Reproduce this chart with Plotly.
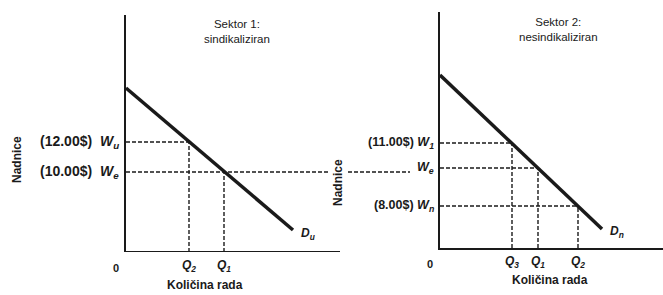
import plotly.graph_objects as go

W, H = 663, 295

# ---- Data (schematic units) ----
# Sector 1 (unionized)
dem1_x = [0.0, 16.7]
dem1_y = [16.4, 2.2]
w1_levels = [11.0, 8.0]            # W_u, W_e
w1_labels = ["(12.00$)  <i>W<sub>u</sub></i>", "(10.00$)  <i>W<sub>e</sub></i>"]
q1_levels = [6.3, 9.8]             # Q2, Q1
q1_labels = ["<i>Q<sub>2</sub></i>", "<i>Q<sub>1</sub></i>"]

# Sector 2 (non-unionized)
dem2_x = [0.0, 16.2]
dem2_y = [17.3, 1.9]
w2_levels = [10.5, 8.0, 4.2]       # W_1, W_e, W_n
w2_labels = ["(11.00$) <i>W<sub>1</sub></i>", "<i>W<sub>e</sub></i>", "(8.00$) <i>W<sub>n</sub></i>"]
q2_levels = [7.2, 9.8, 13.8]       # Q3, Q1, Q2
q2_labels = ["<i>Q<sub>3</sub></i>", "<i>Q<sub>1</sub></i>", "<i>Q<sub>2</sub></i>"]

INK = "#1a1a1a"
FONT = "Liberation Sans"

def px_dom_x(a, b):
    return [a / W, b / W]

def px_dom_y(bottom, top):
    return [(H - bottom) / H, (H - top) / H]

fig = go.Figure()

L_x0, L_x1, L_yb, L_yt = 126, 415, 252, 15
R_x0, R_x1, R_yb, R_yt = 440, 663, 248, 12

fig.update_layout(
    width=W, height=H, margin=dict(l=0, r=0, t=0, b=0),
    paper_bgcolor="white", plot_bgcolor="rgba(0,0,0,0)", showlegend=False,
    font=dict(family=FONT, color=INK, size=11),
    xaxis=dict(domain=px_dom_x(L_x0, L_x1), range=[0, (L_x1 - L_x0) / 10],
               showgrid=False, zeroline=False, showticklabels=False, showline=False, fixedrange=True),
    yaxis=dict(domain=px_dom_y(L_yb, L_yt), range=[0, (L_yb - L_yt) / 10],
               showgrid=False, zeroline=False, showticklabels=False,
               showline=True, linecolor=INK, linewidth=2, fixedrange=True),
    xaxis2=dict(domain=px_dom_x(R_x0, R_x1), range=[0, (R_x1 - R_x0) / 10], anchor="y2",
                showgrid=False, zeroline=False, showticklabels=False,
                showline=True, linecolor=INK, linewidth=2, fixedrange=True),
    yaxis2=dict(domain=px_dom_y(R_yb, R_yt), range=[0, (R_yb - R_yt) / 10], anchor="x2",
                showgrid=False, zeroline=False, showticklabels=False,
                showline=True, linecolor=INK, linewidth=2, fixedrange=True),
)

dash = dict(color=INK, width=1.4, dash="4px,2px")

# left x-axis line (only up to px 340)
fig.add_shape(type="line", xref="x", yref="y", x0=0, x1=(340 - L_x0) / 10, y0=0, y1=0,
              line=dict(color=INK, width=2))

# left dashed guides
fig.add_shape(type="line", xref="x", yref="y", x0=0, x1=q1_levels[0], y0=w1_levels[0], y1=w1_levels[0], line=dash)
fig.add_shape(type="line", xref="x", yref="y", x0=q1_levels[0], x1=q1_levels[0], y0=0, y1=w1_levels[0], line=dash)
# W_e line extends across into sector 2
fig.add_shape(type="line", xref="x", yref="y", x0=0, x1=(410 - L_x0) / 10, y0=w1_levels[1], y1=w1_levels[1], line=dash)
fig.add_shape(type="line", xref="x", yref="y", x0=q1_levels[1], x1=q1_levels[1], y0=0, y1=w1_levels[1], line=dash)

# right dashed guides
for w, q in zip(w2_levels, q2_levels):
    fig.add_shape(type="line", xref="x2", yref="y2", x0=0, x1=q, y0=w, y1=w, line=dash)
    fig.add_shape(type="line", xref="x2", yref="y2", x0=q, x1=q, y0=0, y1=w, line=dash)

# demand curves
fig.add_trace(go.Scatter(x=dem1_x, y=dem1_y, mode="lines", xaxis="x", yaxis="y",
                         line=dict(color=INK, width=3.5), hoverinfo="skip"))
fig.add_trace(go.Scatter(x=dem2_x, y=dem2_y, mode="lines", xaxis="x2", yaxis="y2",
                         line=dict(color=INK, width=3.5), hoverinfo="skip"))

ann = []
def f(size):
    return dict(family=FONT, size=size, color=INK)

for w, lab in zip(w1_levels, w1_labels):
    ann.append(dict(xref="x", yref="y", x=0, y=w, text="<b>" + lab + "</b>", showarrow=False,
                    xanchor="right", yanchor="middle", xshift=-5, font=f(14)))
for w, lab in zip(w2_levels, w2_labels):
    ann.append(dict(xref="x2", yref="y2", x=0, y=w, text="<b>" + lab + "</b>", showarrow=False,
                    xanchor="right", yanchor="middle", xshift=-4, font=f(12.5)))
for q, lab in zip(q1_levels, q1_labels):
    ann.append(dict(xref="x", yref="y", x=q, y=0, text="<b>" + lab + "</b>", showarrow=False,
                    xanchor="center", yanchor="top", yshift=-4, font=f(12)))
for q, lab in zip(q2_levels, q2_labels):
    ann.append(dict(xref="x2", yref="y2", x=q, y=0, text="<b>" + lab + "</b>", showarrow=False,
                    xanchor="center", yanchor="top", yshift=-4, font=f(12)))
ann.append(dict(xref="x", yref="y", x=0, y=0, text="<b>0</b>", showarrow=False,
                xanchor="right", yanchor="top", xshift=-5, yshift=-8, font=f(11)))
ann.append(dict(xref="x2", yref="y2", x=0, y=0, text="<b>0</b>", showarrow=False,
                xanchor="right", yanchor="top", xshift=-5, yshift=-8, font=f(11)))
ann.append(dict(xref="x", yref="y", x=dem1_x[1], y=dem1_y[1], text="<b><i>D<sub>u</sub></i></b>",
                showarrow=False, xanchor="left", yanchor="middle", xshift=6, yshift=-4, font=f(12)))
ann.append(dict(xref="x2", yref="y2", x=dem2_x[1], y=dem2_y[1], text="<b><i>D<sub>n</sub></i></b>",
                showarrow=False, xanchor="left", yanchor="middle", xshift=6, yshift=-3, font=f(12)))
ann.append(dict(xref="paper", yref="paper", x=237 / W, y=1 - 32 / H, text="Sektor 1:<br>sindikaliziran",
                showarrow=False, xanchor="center", yanchor="middle", font=f(11.5), align="center"))
ann.append(dict(xref="paper", yref="paper", x=558 / W, y=1 - 29 / H, text="Sektor 2:<br>nesindikaliziran",
                showarrow=False, xanchor="center", yanchor="middle", font=f(11.5), align="center"))
ann.append(dict(xref="paper", yref="paper", x=205 / W, y=1 - 285 / H, text="<b>Količina rada</b>",
                showarrow=False, xanchor="center", yanchor="middle", font=f(12)))
ann.append(dict(xref="paper", yref="paper", x=550 / W, y=1 - 280 / H, text="<b>Količina rada</b>",
                showarrow=False, xanchor="center", yanchor="middle", font=f(12)))
ann.append(dict(xref="paper", yref="paper", x=17 / W, y=1 - 160 / H, text="<b>Nadnice</b>",
                showarrow=False, textangle=-90, xanchor="center", yanchor="middle", font=f(12)))
ann.append(dict(xref="paper", yref="paper", x=338 / W, y=1 - 183 / H, text="<b>Nadnice</b>",
                showarrow=False, textangle=-90, xanchor="center", yanchor="middle", font=f(12),
                bgcolor="white"))

fig.update_layout(annotations=ann)
fig.write_html("out.html", config={"displayModeBar": False},
               post_script="document.body.style.margin='0';document.body.style.overflow='hidden';")
